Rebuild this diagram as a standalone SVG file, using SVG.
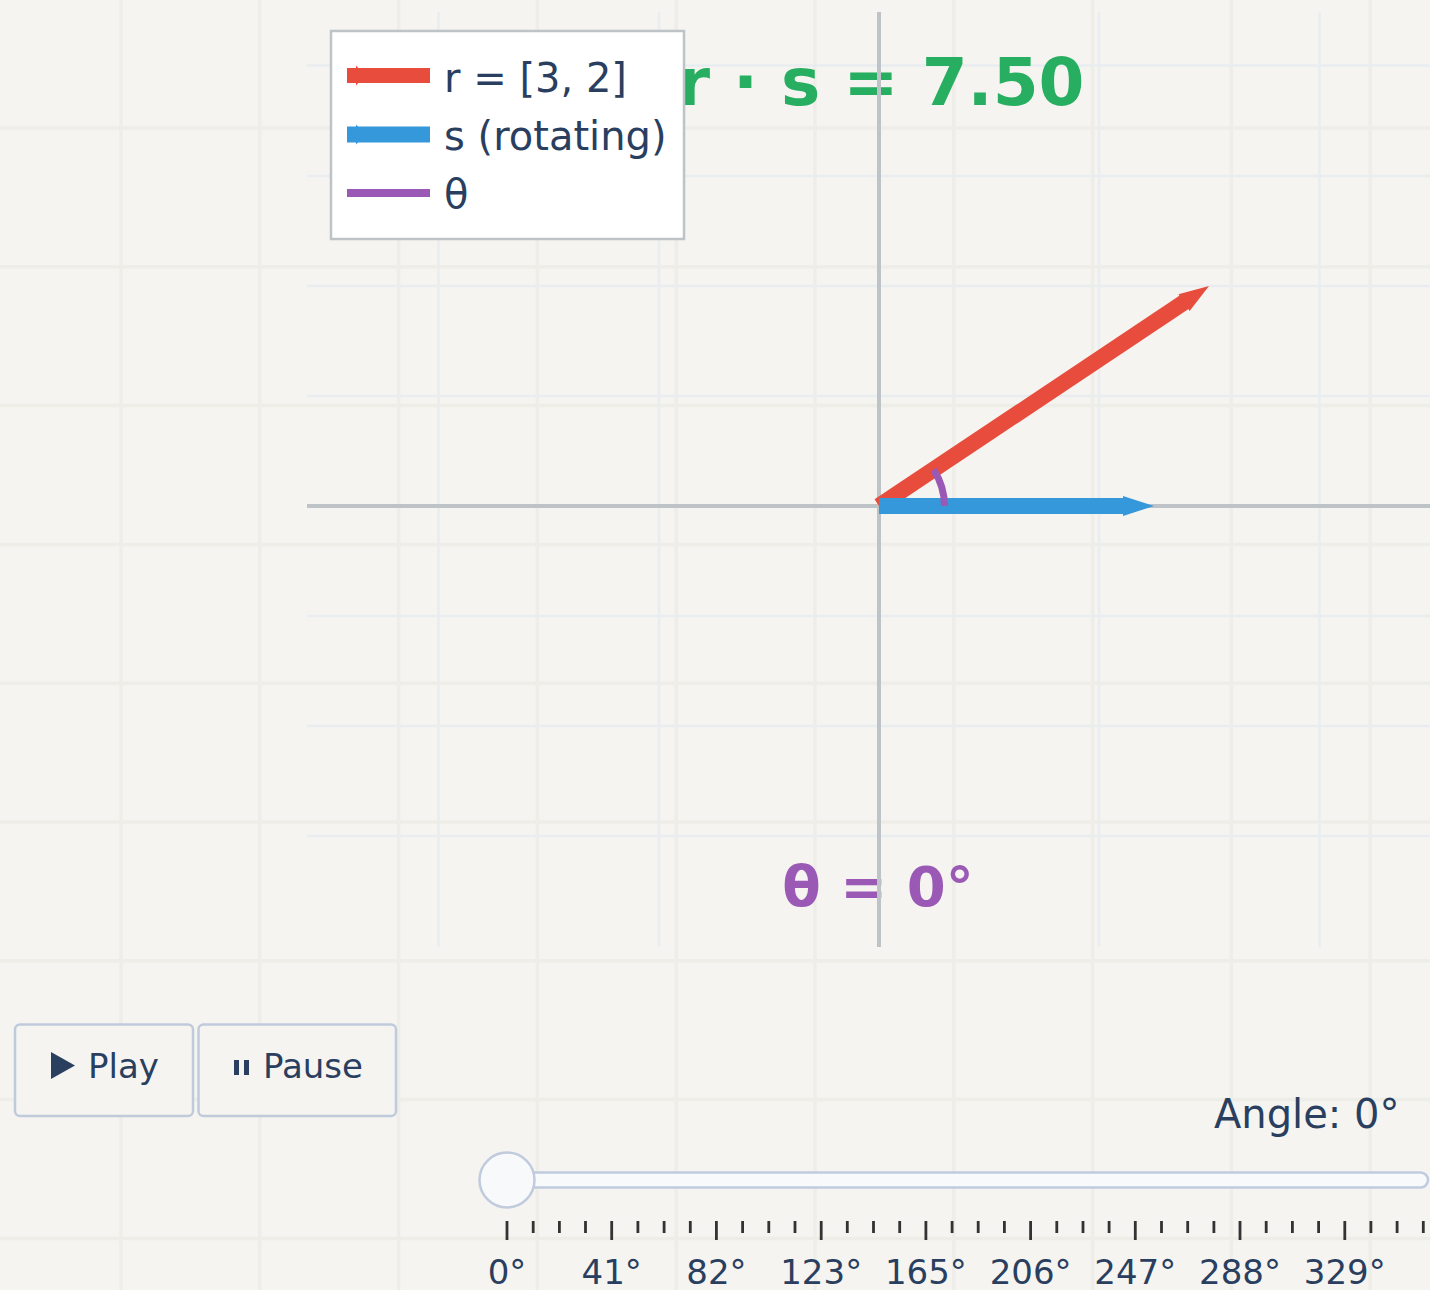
<svg xmlns="http://www.w3.org/2000/svg" width="1430" height="1290" viewBox="0 0 1430 1290">
<defs>
<style>
.bggrid{stroke:#eeede8;stroke-width:3.5;fill:none}
.pgrid{stroke:#e9edf0;stroke-width:2.5;fill:none}
.axis{stroke:#bdc3c7;stroke-width:4;fill:none}
.txt{font-family:"DejaVu Sans","Liberation Sans",sans-serif;fill:#2a3f5f}
.btn{fill:#f5f4f0;stroke:#bfcadb;stroke-width:2.5}
.tick{stroke:#333333;stroke-width:2.8;fill:none}
</style>
</defs>
<rect x="0" y="0" width="1430" height="1290" fill="#f5f4f0"/>
<g id="page-grid" class="bggrid">
<path d="M121 0V1290M259.8 0V1290M398.6 0V1290M537.4 0V1290M676.2 0V1290M815 0V1290M953.8 0V1290M1092.6 0V1290M1231.4 0V1290M1370.2 0V1290"/>
<path d="M0 128H1430M0 266.8H1430M0 405.6H1430M0 544.4H1430M0 683.2H1430M0 822H1430M0 960.8H1430M0 1099.6H1430M0 1238.4H1430"/>
</g>
<g id="plot-grid" class="pgrid">
<path d="M307 65.5H1430M307 176H1430M307 286H1430M307 396H1430M307 616H1430M307 726H1430M307 836H1430"/>
<path d="M438.5 12V947M659 12V947M1099 12V947M1319.5 12V947"/>
</g>
<g id="title">
<text class="txt" x="881" y="105" text-anchor="middle" font-size="66" font-weight="bold" style="fill:#27ae60">r · s = 7.50</text>
</g>
<g id="angle-label">
<text class="txt" x="878" y="906" text-anchor="middle" font-size="56" font-weight="bold" style="fill:#9b59b6">θ = 0°</text>
</g>
<g id="axes" class="axis">
<line x1="307" y1="506" x2="1430" y2="506"/>
<line x1="879" y1="12" x2="879" y2="947"/>
</g>
<g id="connectors">
<g id="vector-r">
<line x1="879" y1="506" x2="1186" y2="301" stroke="#e74c3c" stroke-width="16"/>
<polygon points="1209,286 1189.6,311 1178.5,294.3" fill="#e74c3c"/>
</g>
<g id="vector-s">
<line x1="879" y1="506" x2="1126" y2="506" stroke="#3498db" stroke-width="16"/>
<polygon points="1154,506 1123,516 1123,496" fill="#3498db"/>
</g>
<g id="theta-arc">
<path d="M944.5 506A65.5 65.5 0 0 0 933.5 469.7" fill="none" stroke="#9b59b6" stroke-width="7"/>
</g>
</g>
<g id="legend">
<rect x="331" y="31" width="353" height="208" fill="#ffffff" stroke="#bdc3c7" stroke-width="2.5"/>
<polygon points="356,65.5 365,75.5 356,85.5" fill="#e74c3c"/>
<line x1="347" y1="75.5" x2="430" y2="75.5" stroke="#e74c3c" stroke-width="15"/>
<text class="txt" x="444" y="92" font-size="40">r = [3, 2]</text>
<polygon points="356,124.5 365,134.5 356,144.5" fill="#3498db"/>
<line x1="347" y1="134.5" x2="430" y2="134.5" stroke="#3498db" stroke-width="16"/>
<text class="txt" x="444" y="150" font-size="40">s (rotating)</text>
<line x1="347" y1="193" x2="430" y2="193" stroke="#9b59b6" stroke-width="8"/>
<text class="txt" x="444" y="208" font-size="40">θ</text>
</g>
<g id="play-button">
<rect class="btn" x="15" y="1024.5" width="178" height="91.5" rx="5"/>
<polygon points="51,1052 75,1065.5 51,1079" fill="#2a3f5f"/>
<text class="txt" x="88" y="1078" font-size="34">Play</text>
</g>
<g id="pause-button">
<rect class="btn" x="198.5" y="1024.5" width="197.5" height="91.5" rx="5"/>
<rect x="234" y="1060" width="5" height="15" fill="#2a3f5f"/>
<rect x="244" y="1060" width="5" height="15" fill="#2a3f5f"/>
<text class="txt" x="263" y="1078" font-size="34">Pause</text>
</g>
<g id="angle-readout">
<text class="txt" x="1214" y="1128" font-size="40">Angle: 0°</text>
</g>
<g id="slider">
<rect x="480" y="1172.5" width="948" height="15" rx="7.5" fill="#f8f9fb" stroke="#c0cbdd" stroke-width="2.5"/>
<circle cx="507" cy="1180" r="27.5" fill="#f8f9fb" stroke="#c0cbdd" stroke-width="2.5"/>
</g>
<g id="slider-ticks" class="tick">
<path d="M507 1221V1240M611.7 1221V1240M716.4 1221V1240M821.2 1221V1240M925.9 1221V1240M1030.6 1221V1240M1135.3 1221V1240M1240 1221V1240M1344.8 1221V1240"/>
<path d="M533.2 1221V1233M559.4 1221V1233M585.5 1221V1233M637.9 1221V1233M664.1 1221V1233M690.3 1221V1233M742.6 1221V1233M768.8 1221V1233M795 1221V1233M847.3 1221V1233M873.5 1221V1233M899.7 1221V1233M952.1 1221V1233M978.2 1221V1233M1004.4 1221V1233M1056.8 1221V1233M1083 1221V1233M1109.1 1221V1233M1161.5 1221V1233M1187.7 1221V1233M1213.9 1221V1233M1266.2 1221V1233M1292.4 1221V1233M1318.6 1221V1233M1370.9 1221V1233M1397.1 1221V1233M1423.3 1221V1233"/>
</g>
<g id="slider-labels" class="txt" font-size="34" text-anchor="middle">
<text x="507" y="1284">0°</text>
<text x="611.7" y="1284">41°</text>
<text x="716.4" y="1284">82°</text>
<text x="821.2" y="1284">123°</text>
<text x="925.9" y="1284">165°</text>
<text x="1030.6" y="1284">206°</text>
<text x="1135.3" y="1284">247°</text>
<text x="1240" y="1284">288°</text>
<text x="1344.8" y="1284">329°</text>
</g>
</svg>
